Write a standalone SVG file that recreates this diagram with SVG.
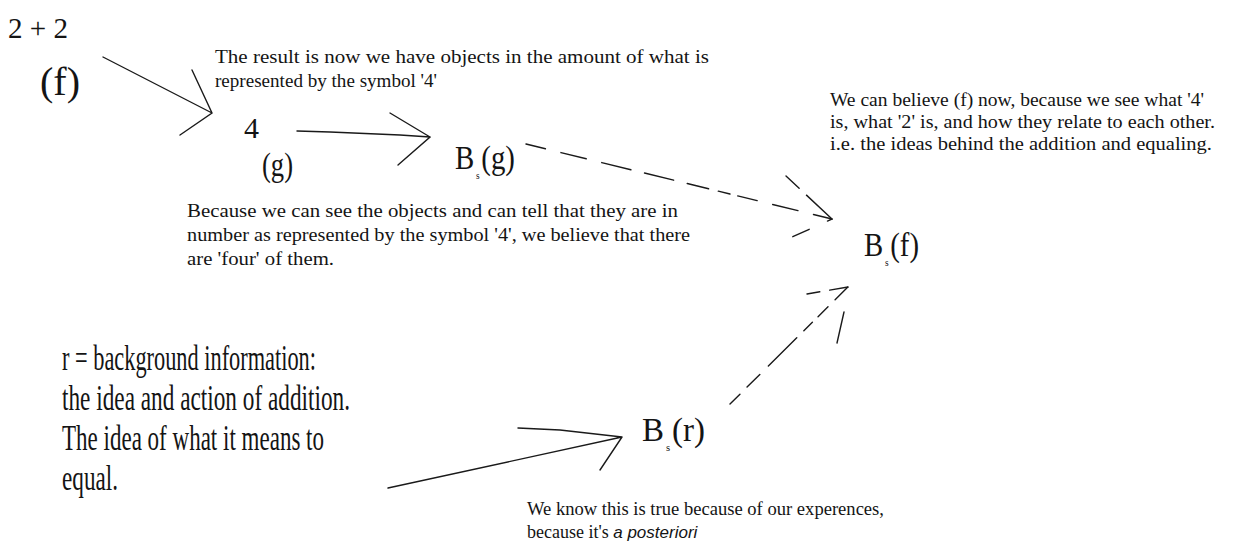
<svg xmlns="http://www.w3.org/2000/svg" width="1238" height="554" viewBox="0 0 1238 554">
<style>
text{font-family:"Liberation Serif","Times New Roman",serif;fill:#141414}
.s{font-size:18px}
.L{font-size:35px}
.m{font-size:30px}
.b{font-size:34px}
.sub{font-size:11px}
.ln{stroke:#1a1a1a;stroke-width:1.4;fill:none;stroke-linecap:round}
.d1{stroke-dasharray:20 16 26 16 30 14 30 14 22 10 12 8}
.d2{stroke-dasharray:14 10 18 12 40 10 12 8}
.it{font-family:"Liberation Sans","DejaVu Sans",sans-serif;font-style:italic;font-size:17px}
</style>
<rect width="1238" height="554" fill="#fff"/>
<g id="connectors">
<path class="ln" d="M103 57 L212 113 M192 70 L212 113 L180 135"/>
<path class="ln" d="M297 131 L330 132 L400 135 L430 137 M390 113 L430 137 L398 165"/>
<path class="ln d1" d="M526 144 L832 219"/>
<path class="ln" stroke-dasharray="18 10 40 20" d="M786 176 L832 219 L790 238"/>
<path class="ln d2" d="M730 404 L848 287"/>
<path class="ln" stroke-dasharray="13 10 30" d="M807 294 L848 287"/>
<path class="ln" d="M844 312 L837 343"/>
<path class="ln" d="M388 488 L622 437 M518 428 L560 430 L622 437 M600 470 L622 437"/>
</g>
<g id="node-f">
<text x="8" y="38" style="font-size:30px" textLength="60" lengthAdjust="spacingAndGlyphs">2 + 2</text>
<text x="40" y="95" style="font-size:40px" textLength="40" lengthAdjust="spacingAndGlyphs">(f)</text>
</g>
<g id="note-result">
<text x="215" y="63" class="s" textLength="494" lengthAdjust="spacingAndGlyphs">The result is now we have objects in the amount of what is</text>
<text x="215" y="87" class="s" textLength="222" lengthAdjust="spacingAndGlyphs">represented by the symbol '4'</text>
</g>
<g id="node-g">
<text x="244" y="138" class="m">4</text>
<text x="262" y="176" class="b" textLength="31" lengthAdjust="spacingAndGlyphs">(g)</text>
</g>
<g id="node-bsg">
<text x="455" y="169" class="b" textLength="60" lengthAdjust="spacingAndGlyphs">B<tspan class="sub" dx="2" dy="10">s</tspan><tspan dx="2" dy="-10">(g)</tspan></text>
</g>
<g id="note-because">
<text x="187" y="217" class="s" textLength="491" lengthAdjust="spacingAndGlyphs">Because we can see the objects and can tell that they are in</text>
<text x="187" y="241" class="s" textLength="503" lengthAdjust="spacingAndGlyphs">number as represented by the symbol '4', we believe that there</text>
<text x="187" y="265" class="s" textLength="147" lengthAdjust="spacingAndGlyphs">are 'four' of them.</text>
</g>
<g id="note-believe">
<text x="830" y="106" class="s" textLength="374" lengthAdjust="spacingAndGlyphs">We can believe (f) now, because we see what '4'</text>
<text x="830" y="128" class="s" textLength="385" lengthAdjust="spacingAndGlyphs">is, what '2' is, and how they relate to each other.</text>
<text x="830" y="150" class="s" textLength="382" lengthAdjust="spacingAndGlyphs">i.e. the ideas behind the addition and equaling.</text>
</g>
<g id="node-bsf">
<text x="864" y="256" class="b" textLength="55" lengthAdjust="spacingAndGlyphs">B<tspan class="sub" dx="2" dy="10">s</tspan><tspan dx="2" dy="-10">(f)</tspan></text>
</g>
<g id="node-r">
<text x="62" y="370" class="L" textLength="254" lengthAdjust="spacingAndGlyphs">r = background information:</text>
<text x="62" y="410" class="L" textLength="288" lengthAdjust="spacingAndGlyphs">the idea and action of addition.</text>
<text x="62" y="450" class="L" textLength="262" lengthAdjust="spacingAndGlyphs">The idea of what it means to</text>
<text x="62" y="490" class="L" textLength="56" lengthAdjust="spacingAndGlyphs">equal.</text>
</g>
<g id="node-bsr">
<text x="642" y="441" class="b" textLength="63" lengthAdjust="spacingAndGlyphs">B<tspan class="sub" dx="2" dy="10">s</tspan><tspan dx="2" dy="-10">(r)</tspan></text>
</g>
<g id="note-know">
<text x="527" y="515" class="s" textLength="357" lengthAdjust="spacingAndGlyphs">We know this is true because of our experences,</text>
<text x="527" y="538" class="s">because it's <tspan class="it">a posteriori</tspan></text>
</g>
</svg>
